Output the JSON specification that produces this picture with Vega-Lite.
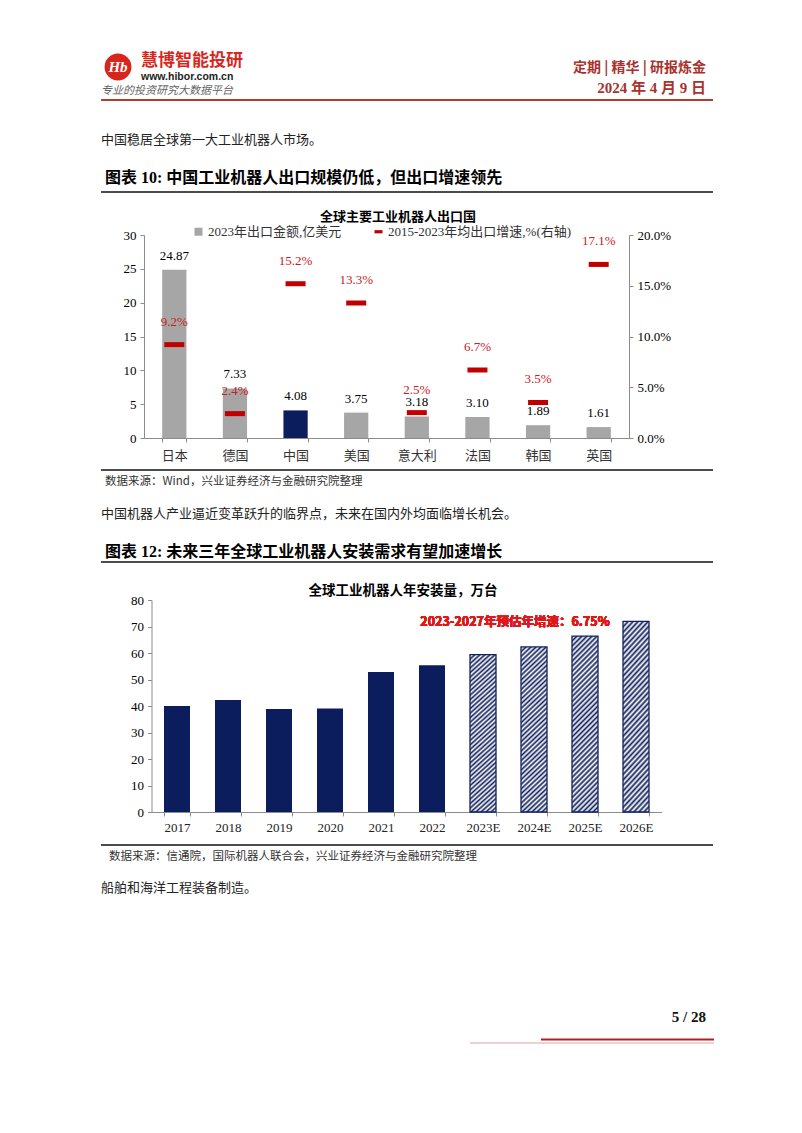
{
  "$schema": "https://vega.github.io/schema/vega-lite/v6.json",
  "padding": {"left": 100, "top": 45, "right": 90, "bottom": 88},
  "background": "white",
  "bounds": "flush",
  "spacing": 0,
  "resolve": {"legend": {"color": "independent"}, "scale": {"color": "independent"}},
  "config": {
    "view": {"stroke": null},
    "font": "Noto Sans CJK SC",
    "axis": {"grid": false, "domainColor": "#8c8c8c", "tickColor": "#8c8c8c", "labelColor": "#1a1a1a", "labelOverlap": false}
  },
  "vconcat": [
    {
      "width": 612, "height": 190,
      "data": {"values": [{}]},
      "layer": [
        {"mark": {"type": "point", "filled": true, "size": 720, "color": "#d9261c", "opacity": 1},
         "encoding": {"x": {"datum": 17, "type": "quantitative", "scale": {"domain": [0, 612], "nice": false, "zero": false}, "axis": null},
                      "y": {"datum": 22, "type": "quantitative", "scale": {"domain": [190, 0], "nice": false, "zero": false}, "axis": null}}},
        {"mark": {"type": "text", "text": "Hb", "color": "white", "fontSize": 15, "fontWeight": "bold", "fontStyle": "italic", "font": "Liberation Serif", "align": "center", "baseline": "middle"},
         "encoding": {"x": {"datum": 17, "type": "quantitative", "scale": {"domain": [0, 612], "nice": false, "zero": false}, "axis": null},
                      "y": {"datum": 22, "type": "quantitative", "scale": {"domain": [190, 0], "nice": false, "zero": false}, "axis": null}}},
        {"mark": {"type": "text", "text": "慧博智能投研", "color": "#d9261c", "fontSize": 17, "fontWeight": "bold", "align": "left", "baseline": "middle"},
         "encoding": {"x": {"datum": 40, "type": "quantitative", "scale": {"domain": [0, 612], "nice": false, "zero": false}, "axis": null},
                      "y": {"datum": 16, "type": "quantitative", "scale": {"domain": [190, 0], "nice": false, "zero": false}, "axis": null}}},
        {"mark": {"type": "text", "text": "www.hibor.com.cn", "color": "#222222", "fontSize": 10.5, "fontWeight": "bold", "font": "Liberation Sans", "align": "left", "baseline": "middle"},
         "encoding": {"x": {"datum": 40, "type": "quantitative", "scale": {"domain": [0, 612], "nice": false, "zero": false}, "axis": null},
                      "y": {"datum": 32, "type": "quantitative", "scale": {"domain": [190, 0], "nice": false, "zero": false}, "axis": null}}},
        {"mark": {"type": "text", "text": "专业的投资研究大数据平台", "color": "#666666", "fontSize": 11, "fontStyle": "italic", "align": "left", "baseline": "middle"},
         "encoding": {"x": {"datum": 0, "type": "quantitative", "scale": {"domain": [0, 612], "nice": false, "zero": false}, "axis": null},
                      "y": {"datum": 45.5, "type": "quantitative", "scale": {"domain": [190, 0], "nice": false, "zero": false}, "axis": null}}},
        {"mark": {"type": "text", "text": "定期 | 精华 | 研报炼金", "color": "#a8322d", "fontSize": 14, "fontWeight": "bold", "align": "right", "baseline": "middle"},
         "encoding": {"x": {"datum": 605, "type": "quantitative", "scale": {"domain": [0, 612], "nice": false, "zero": false}, "axis": null},
                      "y": {"datum": 23, "type": "quantitative", "scale": {"domain": [190, 0], "nice": false, "zero": false}, "axis": null}}},
        {"mark": {"type": "text", "text": "2024 年 4 月 9 日", "color": "#a8322d", "fontSize": 15, "fontWeight": "bold", "font": "Liberation Serif, Noto Sans CJK SC", "align": "right", "baseline": "middle"},
         "encoding": {"x": {"datum": 605, "type": "quantitative", "scale": {"domain": [0, 612], "nice": false, "zero": false}, "axis": null},
                      "y": {"datum": 43, "type": "quantitative", "scale": {"domain": [190, 0], "nice": false, "zero": false}, "axis": null}}},
        {"mark": {"type": "rule", "color": "#b93a2e", "strokeWidth": 2},
         "encoding": {"x": {"datum": 0, "type": "quantitative", "scale": {"domain": [0, 612], "nice": false, "zero": false}, "axis": null},
                      "x2": {"datum": 612},
                      "y": {"datum": 55, "type": "quantitative", "scale": {"domain": [190, 0], "nice": false, "zero": false}, "axis": null}}},
        {"mark": {"type": "text", "text": "中国稳居全球第一大工业机器人市场。", "color": "#222222", "fontSize": 13, "align": "left", "baseline": "middle"},
         "encoding": {"x": {"datum": 0, "type": "quantitative", "scale": {"domain": [0, 612], "nice": false, "zero": false}, "axis": null},
                      "y": {"datum": 95, "type": "quantitative", "scale": {"domain": [190, 0], "nice": false, "zero": false}, "axis": null}}},
        {"mark": {"type": "text", "text": "图表 10:  中国工业机器人出口规模仍低，但出口增速领先", "color": "#000000", "fontSize": 16, "fontWeight": "bold", "font": "Liberation Serif, Noto Sans CJK SC", "align": "left", "baseline": "middle"},
         "encoding": {"x": {"datum": 4, "type": "quantitative", "scale": {"domain": [0, 612], "nice": false, "zero": false}, "axis": null},
                      "y": {"datum": 133, "type": "quantitative", "scale": {"domain": [190, 0], "nice": false, "zero": false}, "axis": null}}},
        {"mark": {"type": "rule", "color": "#111111", "strokeWidth": 1.5},
         "encoding": {"x": {"datum": 0, "type": "quantitative", "scale": {"domain": [0, 612], "nice": false, "zero": false}, "axis": null},
                      "x2": {"datum": 612},
                      "y": {"datum": 147, "type": "quantitative", "scale": {"domain": [190, 0], "nice": false, "zero": false}, "axis": null}}}
      ]
    },
    {
      "width": 612, "height": 203,
      "title": {"text": "全球主要工业机器人出口国", "fontSize": 13, "fontWeight": "bold", "color": "#000000", "anchor": "middle", "frame": "group", "dx": -9, "dy": 9, "offset": 10},
      "data": {"values": [
        {"country": "日本", "value": 24.87, "growth": 0.092},
        {"country": "德国", "value": 7.33, "growth": 0.024},
        {"country": "中国", "value": 4.08, "growth": 0.152},
        {"country": "美国", "value": 3.75, "growth": 0.133},
        {"country": "意大利", "value": 3.18, "growth": 0.025},
        {"country": "法国", "value": 3.10, "growth": 0.067},
        {"country": "韩国", "value": 1.89, "growth": 0.035},
        {"country": "英国", "value": 1.61, "growth": 0.171}
      ]},
      "layer": [
        {
          "layer": [
            {
              "mark": {"type": "bar"},
              "encoding": {
                "x": {"field": "country", "type": "nominal", "sort": null,
                      "scale": {"range": [43, 528], "paddingInner": 0.6, "paddingOuter": 0.3},
                      "axis": {"title": null, "labelAngle": 0, "tickBand": "extent", "tickSize": 4, "labelFontSize": 13, "labelPadding": 7, "labelColor": "#333333"}},
                "y": {"field": "value", "type": "quantitative",
                      "scale": {"domain": [0, 30], "nice": false},
                      "axis": {"title": null, "orient": "left", "offset": -43, "tickCount": 6, "tickSize": 4, "labelFont": "Liberation Serif", "labelFontSize": 13, "labelColor": "#000000", "labelPadding": 4, "labelOverlap": false}},
                "color": {
                  "condition": {"test": "datum.country === '中国'", "value": "#0c1d5e"},
                  "datum": "2023年出口金额,亿美元", "type": "nominal",
                  "scale": {"domain": ["2023年出口金额,亿美元", "2015-2023年均出口增速,%(右轴)"], "range": ["#a6a6a6", "#c00000"]},
                  "legend": {
                    "orient": "none", "legendX": 91, "legendY": -10, "direction": "horizontal", "title": null,
                    "labelFont": "Liberation Serif, Noto Sans CJK SC", "labelFontSize": 13, "labelColor": "#333333", "labelLimit": 400,
                    "symbolSize": 64, "columnPadding": 30, "labelOffset": 3, "symbolStrokeWidth": 0, "symbolType": "square", "symbolOpacity": 1,
                    "encode": {"symbols": {"update": {"shape": {"signal": "datum.value === '2023年出口金额,亿美元' ? 'square' : 'M-1,-0.4L1,-0.4L1,0.4L-1,0.4Z'"}}}}
                  }
                }
              }
            },
            {
              "mark": {"type": "text", "dy": -14, "font": "Liberation Serif", "fontSize": 13, "color": "#000000", "baseline": "middle"},
              "encoding": {
                "x": {"field": "country", "type": "nominal", "sort": null},
                "y": {"field": "value", "type": "quantitative",
                      "axis": {"title": null, "orient": "left", "offset": -43, "tickCount": 6, "tickSize": 4, "labelFont": "Liberation Serif", "labelFontSize": 13, "labelColor": "#000000", "labelPadding": 4, "labelOverlap": false}},
                "text": {"field": "value", "type": "quantitative", "format": ".2f"}
              }
            }
          ]
        },
        {
          "layer": [
            {
              "mark": {"type": "tick", "orient": "horizontal", "thickness": 5, "size": 20, "opacity": 1},
              "encoding": {
                "x": {"field": "country", "type": "nominal", "sort": null},
                "y": {"field": "growth", "type": "quantitative",
                      "scale": {"domain": [0, 0.2], "nice": false},
                      "axis": {"title": null, "orient": "right", "offset": -84, "tickCount": 4, "format": ".1%", "tickSize": 4, "labelFont": "Liberation Serif", "labelFontSize": 13, "labelColor": "#000000", "labelPadding": 4, "labelOverlap": false}},
                "color": {"datum": "2015-2023年均出口增速,%(右轴)", "type": "nominal"}
              }
            },
            {
              "mark": {"type": "text", "dy": -23, "font": "Liberation Serif", "fontSize": 13, "color": "#c8201e", "baseline": "middle"},
              "encoding": {
                "x": {"field": "country", "type": "nominal", "sort": null},
                "y": {"field": "growth", "type": "quantitative",
                      "axis": {"title": null, "orient": "right", "offset": -84, "tickCount": 4, "format": ".1%", "tickSize": 4, "labelFont": "Liberation Serif", "labelFontSize": 13, "labelColor": "#000000", "labelPadding": 4, "labelOverlap": false}},
                "text": {"field": "growth", "type": "quantitative", "format": ".1%"}
              }
            }
          ]
        }
      ],
      "resolve": {"scale": {"y": "independent"}}
    },
    {
      "width": 612, "height": 162,
      "data": {"values": [{}]},
      "layer": [
        {"mark": {"type": "rule", "color": "#111111", "strokeWidth": 1.5},
         "encoding": {"x": {"datum": 0, "type": "quantitative", "scale": {"domain": [0, 612], "nice": false, "zero": false}, "axis": null},
                      "x2": {"datum": 612},
                      "y": {"datum": 32, "type": "quantitative", "scale": {"domain": [162, 0], "nice": false, "zero": false}, "axis": null}}},
        {"mark": {"type": "text", "text": "数据来源：Wind，兴业证券经济与金融研究院整理", "color": "#333333", "fontSize": 11.5, "align": "left", "baseline": "middle"},
         "encoding": {"x": {"datum": 4, "type": "quantitative", "scale": {"domain": [0, 612], "nice": false, "zero": false}, "axis": null},
                      "y": {"datum": 44, "type": "quantitative", "scale": {"domain": [162, 0], "nice": false, "zero": false}, "axis": null}}},
        {"mark": {"type": "text", "text": "中国机器人产业逼近变革跃升的临界点，未来在国内外均面临增长机会。", "color": "#222222", "fontSize": 13, "align": "left", "baseline": "middle"},
         "encoding": {"x": {"datum": 0, "type": "quantitative", "scale": {"domain": [0, 612], "nice": false, "zero": false}, "axis": null},
                      "y": {"datum": 76, "type": "quantitative", "scale": {"domain": [162, 0], "nice": false, "zero": false}, "axis": null}}},
        {"mark": {"type": "text", "text": "图表 12:  未来三年全球工业机器人安装需求有望加速增长", "color": "#000000", "fontSize": 16, "fontWeight": "bold", "font": "Liberation Serif, Noto Sans CJK SC", "align": "left", "baseline": "middle"},
         "encoding": {"x": {"datum": 4, "type": "quantitative", "scale": {"domain": [0, 612], "nice": false, "zero": false}, "axis": null},
                      "y": {"datum": 114, "type": "quantitative", "scale": {"domain": [162, 0], "nice": false, "zero": false}, "axis": null}}},
        {"mark": {"type": "rule", "color": "#111111", "strokeWidth": 1.5},
         "encoding": {"x": {"datum": 0, "type": "quantitative", "scale": {"domain": [0, 612], "nice": false, "zero": false}, "axis": null},
                      "x2": {"datum": 612},
                      "y": {"datum": 124, "type": "quantitative", "scale": {"domain": [162, 0], "nice": false, "zero": false}, "axis": null}}}
      ]
    },
    {
      "width": 612, "height": 212,
      "title": {"text": "全球工业机器人年安装量，万台", "fontSize": 13.5, "fontWeight": "bold", "color": "#000000", "anchor": "middle", "frame": "group", "dx": -4, "dy": 6, "offset": 3},
      "data": {"values": [
        {"year": "2017", "value": 40.0, "kind": "实际"},
        {"year": "2018", "value": 42.3, "kind": "实际"},
        {"year": "2019", "value": 38.9, "kind": "实际"},
        {"year": "2020", "value": 39.1, "kind": "实际"},
        {"year": "2021", "value": 52.8, "kind": "实际"},
        {"year": "2022", "value": 55.4, "kind": "实际"},
        {"year": "2023E", "value": 59.4, "kind": "预测"},
        {"year": "2024E", "value": 62.3, "kind": "预测"},
        {"year": "2025E", "value": 66.4, "kind": "预测"},
        {"year": "2026E", "value": 71.9, "kind": "预测"}
      ]},
      "encoding": {
        "x": {"field": "year", "type": "nominal",
              "scale": {"domain": ["2017", "2018", "2019", "2020", "2021", "2022", "2023E", "2024E", "2025E", "2026E"], "range": [50.5, 560.5], "paddingInner": 0.49, "paddingOuter": 0.245},
              "axis": {"title": null, "labelAngle": 0, "tickBand": "extent", "tickSize": 4, "labelFont": "Liberation Serif", "labelFontSize": 13, "labelPadding": 5, "labelColor": "#222222"}},
        "y": {"field": "value", "type": "quantitative",
              "scale": {"domain": [0, 80], "nice": false},
              "axis": {"title": null, "orient": "left", "offset": -50.5, "tickCount": 8, "tickSize": 4, "labelFont": "Liberation Serif", "labelFontSize": 13, "labelColor": "#000000", "labelPadding": 4, "labelOverlap": false}}
      },
      "layer": [
        {
          "transform": [{"filter": "datum.kind === '实际'"}],
          "mark": {"type": "bar", "color": "#0c1d5e"}
        },
        {
          "transform": [{"filter": "datum.kind === '预测'"}],
          "mark": {"type": "bar", "stroke": "#13225e", "strokeWidth": 1.3,
                   "fill": {"gradient": "linear", "x1": 0, "y1": 0, "x2": 0.1666, "y2": 1.1236, "stops": [{"offset":0,"color":"#13225e"},{"offset":0.0125,"color":"#ffffff"},{"offset":0.025,"color":"#13225e"},{"offset":0.0375,"color":"#ffffff"},{"offset":0.05,"color":"#13225e"},{"offset":0.0625,"color":"#ffffff"},{"offset":0.075,"color":"#13225e"},{"offset":0.0875,"color":"#ffffff"},{"offset":0.1,"color":"#13225e"},{"offset":0.1125,"color":"#ffffff"},{"offset":0.125,"color":"#13225e"},{"offset":0.1375,"color":"#ffffff"},{"offset":0.15,"color":"#13225e"},{"offset":0.1625,"color":"#ffffff"},{"offset":0.175,"color":"#13225e"},{"offset":0.1875,"color":"#ffffff"},{"offset":0.2,"color":"#13225e"},{"offset":0.2125,"color":"#ffffff"},{"offset":0.225,"color":"#13225e"},{"offset":0.2375,"color":"#ffffff"},{"offset":0.25,"color":"#13225e"},{"offset":0.2625,"color":"#ffffff"},{"offset":0.275,"color":"#13225e"},{"offset":0.2875,"color":"#ffffff"},{"offset":0.3,"color":"#13225e"},{"offset":0.3125,"color":"#ffffff"},{"offset":0.325,"color":"#13225e"},{"offset":0.3375,"color":"#ffffff"},{"offset":0.35,"color":"#13225e"},{"offset":0.3625,"color":"#ffffff"},{"offset":0.375,"color":"#13225e"},{"offset":0.3875,"color":"#ffffff"},{"offset":0.4,"color":"#13225e"},{"offset":0.4125,"color":"#ffffff"},{"offset":0.425,"color":"#13225e"},{"offset":0.4375,"color":"#ffffff"},{"offset":0.45,"color":"#13225e"},{"offset":0.4625,"color":"#ffffff"},{"offset":0.475,"color":"#13225e"},{"offset":0.4875,"color":"#ffffff"},{"offset":0.5,"color":"#13225e"},{"offset":0.5125,"color":"#ffffff"},{"offset":0.525,"color":"#13225e"},{"offset":0.5375,"color":"#ffffff"},{"offset":0.55,"color":"#13225e"},{"offset":0.5625,"color":"#ffffff"},{"offset":0.575,"color":"#13225e"},{"offset":0.5875,"color":"#ffffff"},{"offset":0.6,"color":"#13225e"},{"offset":0.6125,"color":"#ffffff"},{"offset":0.625,"color":"#13225e"},{"offset":0.6375,"color":"#ffffff"},{"offset":0.65,"color":"#13225e"},{"offset":0.6625,"color":"#ffffff"},{"offset":0.675,"color":"#13225e"},{"offset":0.6875,"color":"#ffffff"},{"offset":0.7,"color":"#13225e"},{"offset":0.7125,"color":"#ffffff"},{"offset":0.725,"color":"#13225e"},{"offset":0.7375,"color":"#ffffff"},{"offset":0.75,"color":"#13225e"},{"offset":0.7625,"color":"#ffffff"},{"offset":0.775,"color":"#13225e"},{"offset":0.7875,"color":"#ffffff"},{"offset":0.8,"color":"#13225e"},{"offset":0.8125,"color":"#ffffff"},{"offset":0.825,"color":"#13225e"},{"offset":0.8375,"color":"#ffffff"},{"offset":0.85,"color":"#13225e"},{"offset":0.8625,"color":"#ffffff"},{"offset":0.875,"color":"#13225e"},{"offset":0.8875,"color":"#ffffff"},{"offset":0.9,"color":"#13225e"},{"offset":0.9125,"color":"#ffffff"},{"offset":0.925,"color":"#13225e"},{"offset":0.9375,"color":"#ffffff"},{"offset":0.95,"color":"#13225e"},{"offset":0.9625,"color":"#ffffff"},{"offset":0.975,"color":"#13225e"},{"offset":0.9875,"color":"#ffffff"},{"offset":1,"color":"#13225e"}]}}
        },
        {
          "mark": {"type": "text", "text": "2023-2027年预估年增速：6.75%", "color": "#e01818", "fontWeight": "bold", "fontSize": 12.5, "dx": -19, "align": "center", "baseline": "middle"},
          "encoding": {
            "x": {"datum": "2024E", "type": "nominal"},
            "y": {"datum": 71.8, "type": "quantitative"}
          }
        }
      ]
    },
    {
      "width": 612, "height": 233,
      "data": {"values": [{}]},
      "layer": [
        {"mark": {"type": "rule", "color": "#111111", "strokeWidth": 1.5},
         "encoding": {"x": {"datum": 0, "type": "quantitative", "scale": {"domain": [0, 612], "nice": false, "zero": false}, "axis": null},
                      "x2": {"datum": 612},
                      "y": {"datum": 33, "type": "quantitative", "scale": {"domain": [233, 0], "nice": false, "zero": false}, "axis": null}}},
        {"mark": {"type": "text", "text": "数据来源：信通院，国际机器人联合会，兴业证券经济与金融研究院整理", "color": "#333333", "fontSize": 11.5, "align": "left", "baseline": "middle"},
         "encoding": {"x": {"datum": 8, "type": "quantitative", "scale": {"domain": [0, 612], "nice": false, "zero": false}, "axis": null},
                      "y": {"datum": 45, "type": "quantitative", "scale": {"domain": [233, 0], "nice": false, "zero": false}, "axis": null}}},
        {"mark": {"type": "text", "text": "船舶和海洋工程装备制造。", "color": "#222222", "fontSize": 13, "align": "left", "baseline": "middle"},
         "encoding": {"x": {"datum": 0, "type": "quantitative", "scale": {"domain": [0, 612], "nice": false, "zero": false}, "axis": null},
                      "y": {"datum": 76, "type": "quantitative", "scale": {"domain": [233, 0], "nice": false, "zero": false}, "axis": null}}},
        {"mark": {"type": "text", "text": "5 / 28", "color": "#111111", "fontSize": 15, "fontWeight": "bold", "font": "Liberation Serif", "align": "right", "baseline": "middle"},
         "encoding": {"x": {"datum": 605, "type": "quantitative", "scale": {"domain": [0, 612], "nice": false, "zero": false}, "axis": null},
                      "y": {"datum": 205, "type": "quantitative", "scale": {"domain": [233, 0], "nice": false, "zero": false}, "axis": null}}},
        {"mark": {"type": "rule", "color": "#d9a3a3", "strokeWidth": 1},
         "encoding": {"x": {"datum": 369, "type": "quantitative", "scale": {"domain": [0, 612], "nice": false, "zero": false}, "axis": null},
                      "x2": {"datum": 613},
                      "y": {"datum": 231, "type": "quantitative", "scale": {"domain": [233, 0], "nice": false, "zero": false}, "axis": null}}},
        {"mark": {"type": "rule", "color": "#b01e23", "strokeWidth": 2},
         "encoding": {"x": {"datum": 440, "type": "quantitative", "scale": {"domain": [0, 612], "nice": false, "zero": false}, "axis": null},
                      "x2": {"datum": 613},
                      "y": {"datum": 227.5, "type": "quantitative", "scale": {"domain": [233, 0], "nice": false, "zero": false}, "axis": null}}}
      ]
    }
  ]
}
